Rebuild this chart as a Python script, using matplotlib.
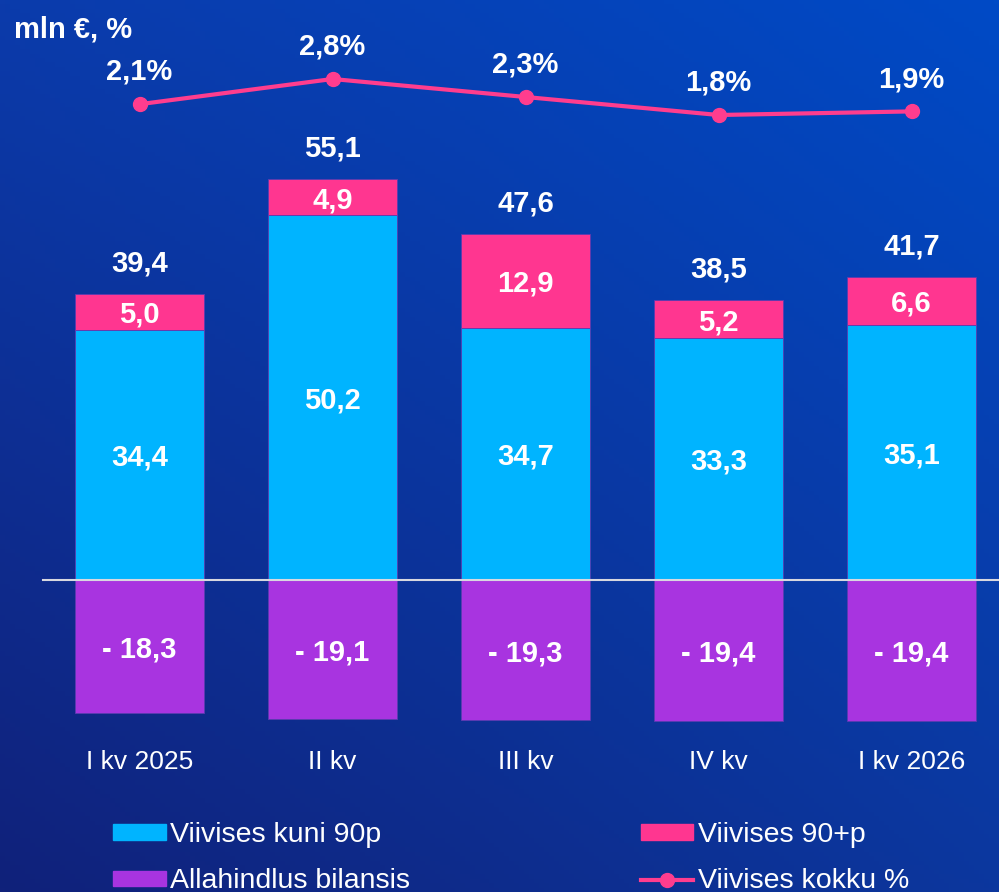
import matplotlib.pyplot as plt
import numpy as np
from matplotlib.lines import Line2D
from matplotlib.patches import Patch

plt.rcParams["font.family"] = ["Liberation Sans", "DejaVu Sans"]

quarters = ["I kv 2025", "II kv", "III kv", "IV kv", "I kv 2026"]
up_to_90 = [34.4, 50.2, 34.7, 33.3, 35.1]
over_90 = [5.0, 4.9, 12.9, 5.2, 6.6]
totals = [39.4, 55.1, 47.6, 38.5, 41.7]
write_down = [-18.3, -19.1, -19.3, -19.4, -19.4]
overdue_pct = [2.1, 2.8, 2.3, 1.8, 1.9]

c_blue = "#00b4ff"
c_pink = "#ff3690"
c_purple = "#a834e0"
c_line = "#ff3d8e"


def fmt(v):
    return f"{v:.1f}".replace(".", ",")


fig = plt.figure(figsize=(9.99, 8.92), dpi=100)

# gradient background
bg = fig.add_axes([0, 0, 1, 1], zorder=0)
bg.axis("off")
corners = np.array([
    [[0x0b, 0x3b, 0xab], [0x00, 0x4a, 0xc6]],  # top-left, top-right
    [[0x10, 0x21, 0x7a], [0x0c, 0x37, 0x9e]],  # bottom-left, bottom-right
]) / 255.0
ty, tx = np.mgrid[0:1:200j, 0:1:200j]
img = ((1 - ty)[..., None] * ((1 - tx)[..., None] * corners[0, 0] + tx[..., None] * corners[0, 1])
       + ty[..., None] * ((1 - tx)[..., None] * corners[1, 0] + tx[..., None] * corners[1, 1]))
bg.imshow(img, aspect="auto", extent=[0, 1, 0, 1])

ax = fig.add_axes([0, 0, 1, 1], zorder=1)
ax.patch.set_alpha(0)
ax.axis("off")

x = np.arange(len(quarters))
w = 0.665
edge = dict(edgecolor="#5a3cb0", linewidth=0.6)
ax.bar(x, up_to_90, w, color=c_blue, **edge)
ax.bar(x, over_90, w, bottom=up_to_90, color=c_pink, **edge)
ax.bar(x, write_down, w, color=c_purple, **edge)

ax.set_xlim(-0.723, 4.453)
ax.set_ylim(-312 / 7.27, 580 / 7.27)
ax.axhline(0, xmin=43 / 999, xmax=1, color="#d8d8e0", lw=1.5, zorder=3)

lbl = dict(ha="center", va="center_baseline", color="white", fontsize=21, fontweight="bold")
for i in range(len(quarters)):
    ax.text(x[i], up_to_90[i] / 2, fmt(up_to_90[i]), **lbl)
    ax.text(x[i], up_to_90[i] + over_90[i] / 2, fmt(over_90[i]), **lbl)
    ax.text(x[i], write_down[i] / 2, "- " + fmt(-write_down[i]), **lbl)
    ax.text(x[i], totals[i] + 4.6, fmt(totals[i]), **lbl)
    ax.text(x[i], 0.148, quarters[i], transform=ax.get_xaxis_transform(),
            ha="center", va="center_baseline", color="white", fontsize=19)

ax2 = ax.twinx()
ax2.axis("off")
ax2.set_ylim(-(892 - 179.8) / 36, 179.8 / 36)
ax2.plot(x, overdue_pct, color=c_line, lw=3, marker="o", markersize=10)
for i in range(len(quarters)):
    ax2.text(x[i], overdue_pct[i] + 0.98, fmt(overdue_pct[i]) + "%", **lbl)

fig.text(14 / 999, 1 - 27 / 892, "mln €, %", ha="left", va="center_baseline",
         color="white", fontsize=21, fontweight="bold")

handles = [
    Patch(color=c_blue, label="Viivises kuni 90p"),
    Patch(color=c_purple, label="Allahindlus bilansis"),
    Patch(color=c_pink, label="Viivises 90+p"),
    Line2D([0], [0], color=c_line, lw=3, marker="o", markersize=10, label="Viivises kokku %"),
]
fig.legend(handles=handles, ncol=2, loc="upper left", bbox_to_anchor=(113 / 999, 1 - 822 / 892),
           frameon=False, fontsize=20.5, labelcolor="white", borderpad=0, borderaxespad=0,
           handlelength=1.85, handleheight=0.45, handletextpad=0.15, columnspacing=8.1,
           labelspacing=0.72)

fig.savefig("out.png", dpi=100)
